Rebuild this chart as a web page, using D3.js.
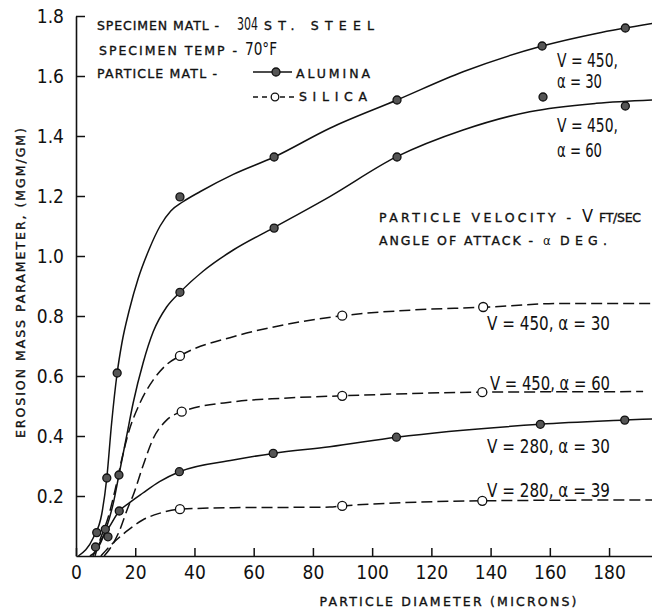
<!DOCTYPE html>
<html>
<head>
<meta charset="utf-8">
<script src="https://cdn.jsdelivr.net/npm/d3@7"></script>
<style>
  body { margin: 0; background: #fff; }
  svg { display: block; }
</style>
</head>
<body>
<svg id="chart"></svg>
<script>
// tick values
const xTicks = [0, 20, 40, 60, 80, 100, 120, 140, 160, 180];
const yTicks = [0.2, 0.4, 0.6, 0.8, 1.0, 1.2, 1.4, 1.6, 1.8];

// curves: [particle diameter, erosion mass parameter]
const alu450a30Line = [[0.8,0],[5.8,0.06],[8.7,0.14],[10.4,0.26],[12,0.44],[13.9,0.61],[15.5,0.71],[18,0.82],[21,0.925],[24.6,1.02],[28.4,1.10],[32,1.15],[36,1.18],[42,1.215],[53.1,1.272],[66.9,1.33],[85.7,1.426],[108.4,1.52],[130.7,1.614],[157.4,1.70],[175.7,1.742],[194.5,1.775]];
const alu450a60Line = [[4.7,0],[7,0.02],[10.1,0.089],[12.6,0.176],[14.5,0.27],[17.1,0.40],[19.3,0.51],[22.7,0.645],[26.1,0.748],[30.6,0.83],[35.1,0.879],[43,0.95],[53.1,1.02],[66.7,1.094],[85.7,1.198],[108.3,1.331],[130.7,1.42],[153.2,1.481],[175.7,1.509],[194.5,1.52]];
const sil450a30Line = [[6.4,0],[8.1,0.053],[10.9,0.13],[13.2,0.22],[15.4,0.32],[17.7,0.41],[21.6,0.51],[26.1,0.587],[30.6,0.638],[35.1,0.667],[53.1,0.731],[70,0.77],[89.9,0.801],[113.8,0.82],[137.2,0.829],[164.5,0.842],[194.5,0.842]];
const sil450a60Line = [[9.5,0],[11.5,0.025],[14.5,0.08],[17.5,0.16],[19.2,0.2],[22.6,0.3],[26,0.39],[30.6,0.453],[35.7,0.481],[53.1,0.514],[70,0.526],[89.9,0.534],[136.9,0.546],[191.5,0.548]];
const alu280a30Line = [[5.7,0],[8.3,0.05],[11.3,0.098],[14.6,0.15],[18.1,0.178],[22.6,0.21],[28.2,0.248],[34.9,0.281],[53.1,0.32],[66.6,0.342],[85.7,0.364],[108.2,0.396],[156.8,0.439],[185.3,0.453],[194.5,0.457]];
const sil280a30Line = [[8.4,0],[12.4,0.042],[16.9,0.081],[22.5,0.12],[28.1,0.142],[35.1,0.156],[53.1,0.161],[85.7,0.163],[89.9,0.167],[137.2,0.184],[194.5,0.187]];

// measured points
const alu450a30Pts = [[7.0,0.078],[10.4,0.26],[13.9,0.61],[35.1,1.197],[66.9,1.33],[108.4,1.52],[157.4,1.70],[185.5,1.76]];
const alu450a60Pts = [[6.6,0.03],[9.9,0.089],[14.5,0.27],[35.1,0.879],[66.9,1.093],[108.4,1.33],[157.7,1.53],[185.5,1.50]];
const alu280a30Pts = [[10.8,0.064],[14.6,0.15],[34.9,0.281],[66.6,0.342],[108.2,0.396],[156.8,0.439],[185.3,0.453]];
const sil450a30Pts = [[35.1,0.667],[89.9,0.801],[137.5,0.83]];
const sil450a60Pts = [[35.7,0.481],[89.9,0.534],[137.2,0.546]];
const sil280a30Pts = [[35.1,0.156],[89.9,0.167],[137.2,0.184]];

const width = 652, height = 609;
const ink = "#111";
const small = "DejaVu Sans";
const big = "DejaVu Sans Condensed";

const svg = d3.select("#chart").attr("width", width).attr("height", height);

const x = d3.scaleLinear().domain([0, 194.5]).range([76, 652]);
const y = d3.scaleLinear().domain([0, 1.8]).range([556, 16]);

// axes, ticks point inward
const xAxis = svg.append("g")
  .attr("transform", `translate(0,${y(0)})`)
  .call(d3.axisBottom(x).tickValues(xTicks).tickSizeInner(-8).tickSizeOuter(0).tickPadding(10).tickFormat(d3.format("d")));
const yAxis = svg.append("g")
  .attr("transform", `translate(${x(0)},0)`)
  .call(d3.axisLeft(y).tickValues(yTicks).tickSizeInner(-9).tickSizeOuter(0).tickPadding(12).tickFormat(d3.format(".1f")));

[xAxis, yAxis].forEach(a => {
  a.select(".domain").attr("stroke", ink).attr("stroke-width", 1.6);
  a.selectAll(".tick line").attr("stroke", ink).attr("stroke-width", 1.5);
  a.selectAll(".tick text").attr("fill", ink).attr("font-family", big).attr("font-size", 19);
});

// curves
const line = d3.line().x(d => x(d[0])).y(d => y(d[1])).curve(d3.curveMonotoneX);
const curves = [
  { line: alu450a30Line, pts: alu450a30Pts, dashed: false },
  { line: alu450a60Line, pts: alu450a60Pts, dashed: false },
  { line: alu280a30Line, pts: alu280a30Pts, dashed: false },
  { line: sil450a30Line, pts: sil450a30Pts, dashed: true },
  { line: sil450a60Line, pts: sil450a60Pts, dashed: true },
  { line: sil280a30Line, pts: sil280a30Pts, dashed: true }
];

curves.forEach(c => {
  svg.append("path")
    .attr("d", line(c.line))
    .attr("fill", "none")
    .attr("stroke", ink)
    .attr("stroke-width", 1.5)
    .attr("stroke-dasharray", c.dashed ? "11,5" : null);
});
curves.forEach(c => {
  svg.append("g").selectAll("circle")
    .data(c.pts)
    .enter()
    .append("circle")
    .attr("cx", d => x(d[0]))
    .attr("cy", d => y(d[1]))
    .attr("r", c.dashed ? 4.5 : 4)
    .attr("fill", c.dashed ? "#fff" : "#555")
    .attr("stroke", ink)
    .attr("stroke-width", 1.3);
});

// text helper: start x, baseline y, fitted to a width
function label(xp, yp, s, font, size, w, anchor) {
  const t = svg.append("text")
    .attr("x", xp)
    .attr("y", yp)
    .attr("fill", ink)
    .attr("font-family", font)
    .attr("font-size", size)
    .style("text-anchor", anchor || "start")
    .text(s);
  if (font === small) t.attr("stroke", ink).attr("stroke-width", 0.35);
  if (w) t.attr("textLength", w).attr("lengthAdjust", font === big ? "spacingAndGlyphs" : "spacing");
  return t;
}

// header block
label(97, 30, "SPECIMEN MATL -", small, 12.5, 122);
label(237, 30, "304", big, 17, 21);
label(264, 30, "ST. STEEL", small, 12.5, 110);
label(99, 55, "SPECIMEN TEMP -", small, 12.5, 138);
label(245, 55, "70°F", big, 18, 32);
label(97, 78, "PARTICLE MATL -", small, 12.5, 120);
label(296, 78, "ALUMINA", small, 12.5, 74);
label(299, 101, "SILICA", small, 12.5, 68);

// legend samples
svg.append("line").attr("x1", 253).attr("x2", 292).attr("y1", 72).attr("y2", 72)
  .attr("stroke", ink).attr("stroke-width", 1.5);
svg.append("circle").attr("cx", 276).attr("cy", 72).attr("r", 4)
  .attr("fill", "#555").attr("stroke", ink).attr("stroke-width", 1.3);
svg.append("line").attr("x1", 253).attr("x2", 294).attr("y1", 97).attr("y2", 97)
  .attr("stroke", ink).attr("stroke-width", 1.5).attr("stroke-dasharray", "5,4");
svg.append("circle").attr("cx", 275).attr("cy", 97).attr("r", 3.8)
  .attr("fill", "#fff").attr("stroke", ink).attr("stroke-width", 1.3);

// key to symbols
label(379, 222, "PARTICLE VELOCITY -", small, 12.5, 192);
label(582, 222, "V", big, 18);
label(599, 222, "FT/SEC", small, 12.5, 42);
label(379, 245, "ANGLE OF ATTACK -", small, 12.5, 154);
label(543, 245, "α", big, 13);
label(560, 245, "DEG.", small, 12.5, 47);

// curve labels
label(557, 67, "V = 450,", big, 19, 61);
label(557, 88, "α = 30", big, 19, 45);
label(557, 132, "V = 450,", big, 19, 61);
label(557, 157, "α = 60", big, 19, 45);
label(487, 330, "V = 450,  α = 30", big, 20, 123);
label(490, 390, "V = 450,  α = 60", big, 20, 120);
label(487, 453, "V = 280,  α = 30", big, 20, 123);
label(487, 497, "V = 280,  α = 39", big, 20, 123);

// axis titles
label(448, 606, "PARTICLE DIAMETER (MICRONS)", small, 12.5, 257, "middle");
svg.append("text")
  .attr("transform", "translate(25,283) rotate(-90)")
  .attr("fill", ink)
  .attr("stroke", ink)
  .attr("stroke-width", 0.35)
  .attr("font-family", small)
  .attr("font-size", 12.5)
  .attr("textLength", 310)
  .attr("lengthAdjust", "spacing")
  .style("text-anchor", "middle")
  .text("EROSION MASS PARAMETER, (MGM/GM)");
</script>
</body>
</html>
